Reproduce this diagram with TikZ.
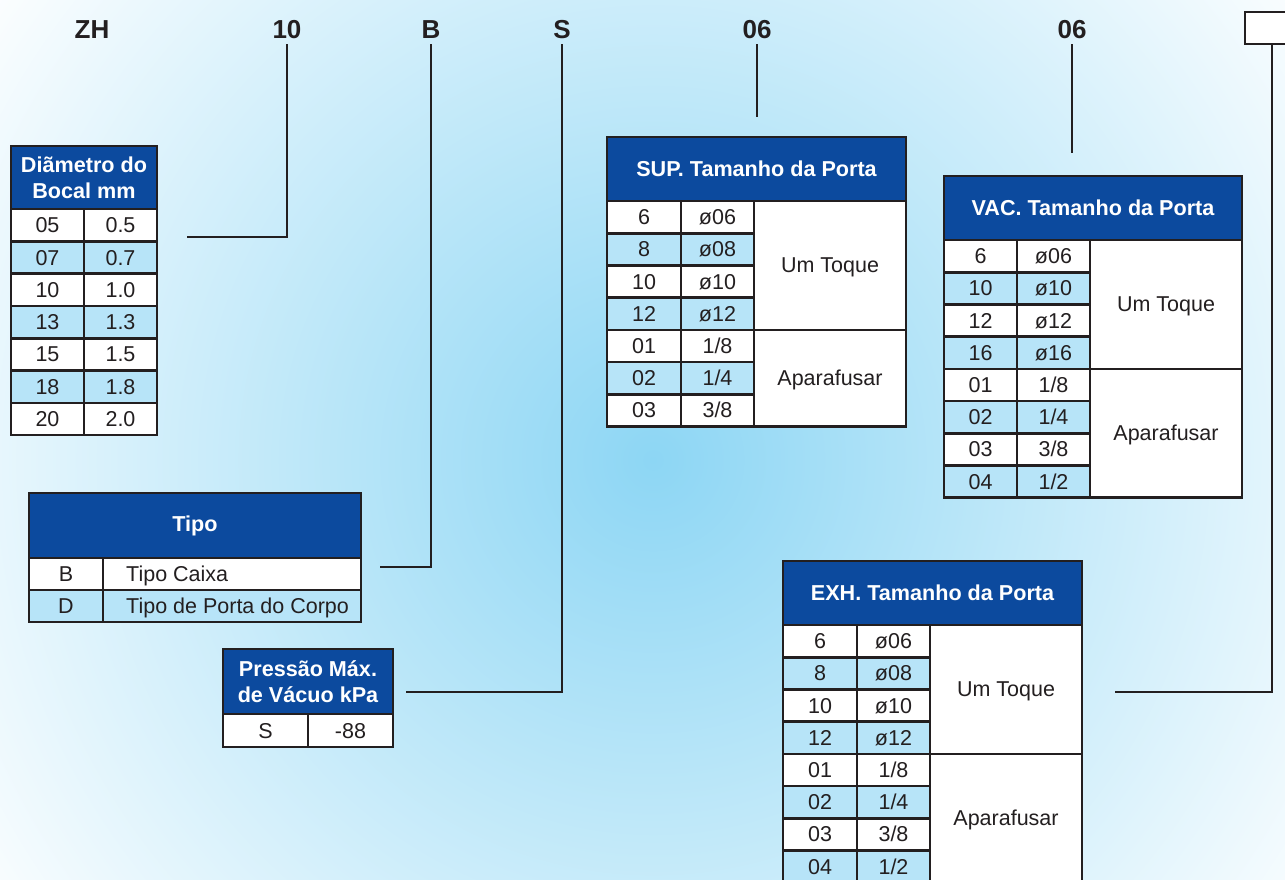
\documentclass[tikz,border=0pt]{standalone}
\usepackage{fontspec}
\setmainfont{Liberation Sans}
\definecolor{bgc}{RGB}{141,214,244}
\definecolor{hdrblue}{RGB}{12,74,158}
\definecolor{rowblue}{RGB}{183,228,248}
\definecolor{edgec}{RGB}{35,31,32}
\pgfdeclareradialshading{bgrad}{\pgfpoint{0bp}{0bp}}{color(0bp)=(bgc); color(25bp)=(white); color(50bp)=(white)}
\newcommand\myHead{\fontsize{21.6}{26}\selectfont\bfseries}
\newcommand\myBody{\fontsize{21.5}{25}\selectfont}
\newcommand\myCode{\fontsize{26}{30}\selectfont\bfseries}
% #1 prefix, #2..#5 column x, #6 top y, #7 title, #8 rows, #9 number of rows
\newcommand\porttable[9]{%
  \node[hdr, minimum width={#5-#2}, minimum height=64, anchor=north west] (#1h) at (#2,#6) {#7};
  \foreach \a/\b [count=\i] in {#8}{%
    \ifodd\i\relax\def\fc{white}\else\def\fc{rowblue}\fi
    \pgfmathsetmacro\yt{#6+64+(\i-1)*32.2}
    \draw[cell, fill=\fc] (#2,\yt) rectangle (#3,\yt+32.2);
    \draw[cell, fill=\fc] (#3,\yt) rectangle (#4,\yt+32.2);
    \node[btxt] (#1a\i) at ({(#2+#3)/2},\yt+23.6) {\a};
    \node[btxt] (#1b\i) at ({(#3+#4)/2},\yt+23.6) {\b};
  }
  \draw[cell, fill=white] (#4,#6+64) rectangle (#5,#6+64+4*32.2);
  \draw[cell, fill=white] (#4,#6+64+4*32.2) rectangle (#5,#6+64+#9*32.2);
  \node[btxt] (#1u) at ({(#4+#5)/2},#6+64+2*32.2+7.5) {Um Toque};
  \node[btxt] (#1p) at ({(#4+#5)/2},#6+64+4*16.1+#9*16.1+7.5) {Aparafusar};
}
\begin{document}
\begin{tikzpicture}[x=1pt,y=-1pt,
  cell/.style={draw=edgec, line width=2.6pt},
  hdr/.style={draw=edgec, line width=2.6pt, fill=hdrblue, text=white, font=\myHead, align=center, inner sep=0pt, outer sep=0pt},
  btxt/.style={font=\myBody, text=edgec, anchor=base, inner sep=0pt},
  codetxt/.style={font=\myCode, text=edgec, anchor=base, inner sep=0pt},
  conn/.style={draw=edgec, line width=2pt}]
\useasboundingbox (0,0) rectangle (1285,879);
\begin{scope}
\clip (0,0) rectangle (1285,879);
\fill[white] (0,0) rectangle (1285,879);
\shade[shading=bgrad] (653,460) circle[radius=830];

% code labels
\node[codetxt] (cZH) at (92,38) {ZH};
\node[codetxt] (c10) at (287,38) {10};
\node[codetxt] (cB) at (431,38) {B};
\node[codetxt] (cS) at (562,38) {S};
\node[codetxt] (c06a) at (757,38) {06};
\node[codetxt] (c06b) at (1072,38) {06};
\node[draw=edgec, line width=2.6pt, fill=white, anchor=north west, minimum width=70, minimum height=32, inner sep=0pt, outer sep=0pt] (cbox) at (1245,12) {};

% connector ends
\coordinate (e10) at (187,237);
\coordinate (eB) at (380,567);
\coordinate (eS) at (406,692);
\coordinate (eSUP) at (757,117);
\coordinate (eVAC) at (1072,153);
\coordinate (eEXH) at (1115,692);

\draw[conn] (c10.south) ++(0,6) |- (e10);
\draw[conn] (cB.south) ++(0,6) |- (eB);
\draw[conn] (cS.south) ++(0,6) |- (eS);
\draw[conn] (c06a.south) ++(0,6) -- (eSUP);
\draw[conn] (c06b.south) ++(0,6) -- (eVAC);
\draw[conn] (cbox.south west) ++(27,0) |- (eEXH);

% Diametro table
\node[hdr, minimum width=146, minimum height=63, anchor=north west] (hDia) at (11,146) {Diãmetro do\\Bocal mm};
\foreach \a/\b [count=\i] in {05/0.5, 07/0.7, 10/1.0, 13/1.3, 15/1.5, 18/1.8, 20/2.0}{%
  \ifodd\i\relax\def\fc{white}\else\def\fc{rowblue}\fi
  \pgfmathsetmacro\yt{209+(\i-1)*32.3}
  \draw[cell, fill=\fc] (11,\yt) rectangle (84,\yt+32.3);
  \draw[cell, fill=\fc] (84,\yt) rectangle (157,\yt+32.3);
  \node[btxt] (da\i) at (47.5,\yt+23.7) {\a};
  \node[btxt] (db\i) at (120.5,\yt+23.7) {\b};
}

% Tipo table
\node[hdr, minimum width=332, minimum height=65, anchor=north west] (hTipo) at (29,493) {Tipo};
\draw[cell, fill=white] (29,558) rectangle (103,590);
\draw[cell, fill=white] (103,558) rectangle (361,590);
\draw[cell, fill=rowblue] (29,590) rectangle (103,622);
\draw[cell, fill=rowblue] (103,590) rectangle (361,622);
\node[btxt] (tB) at (66,581.5) {B};
\node[btxt, anchor=base west] (tBx) at (126,581.5) {Tipo Caixa};
\node[btxt] (tD) at (66,613.5) {D};
\node[btxt, anchor=base west] (tDx) at (126,613.5) {Tipo de Porta do Corpo};

% Pressao table
\node[hdr, minimum width=170, minimum height=65, anchor=north west] (hPr) at (223,649) {Pressão Máx.\\de Vácuo kPa};
\draw[cell, fill=white] (223,714) rectangle (308,747);
\draw[cell, fill=white] (308,714) rectangle (393,747);
\node[btxt] (pS) at (265.5,738) {S};
\node[btxt] (pV) at (350.5,738) {-88};

% port tables
\porttable{sup}{607}{681}{754}{906}{137}{SUP. Tamanho da Porta}{6/ø06, 8/ø08, 10/ø10, 12/ø12, 01/{1/8}, 02/{1/4}, 03/{3/8}}{7}
\porttable{vac}{944}{1017}{1090}{1242}{176}{VAC. Tamanho da Porta}{6/ø06, 10/ø10, 12/ø12, 16/ø16, 01/{1/8}, 02/{1/4}, 03/{3/8}, 04/{1/2}}{8}
\porttable{exh}{783}{857}{930}{1082}{561}{EXH. Tamanho da Porta}{6/ø06, 8/ø08, 10/ø10, 12/ø12, 01/{1/8}, 02/{1/4}, 03/{3/8}, 04/{1/2}}{8}
\end{scope}
\end{tikzpicture}
\end{document}
